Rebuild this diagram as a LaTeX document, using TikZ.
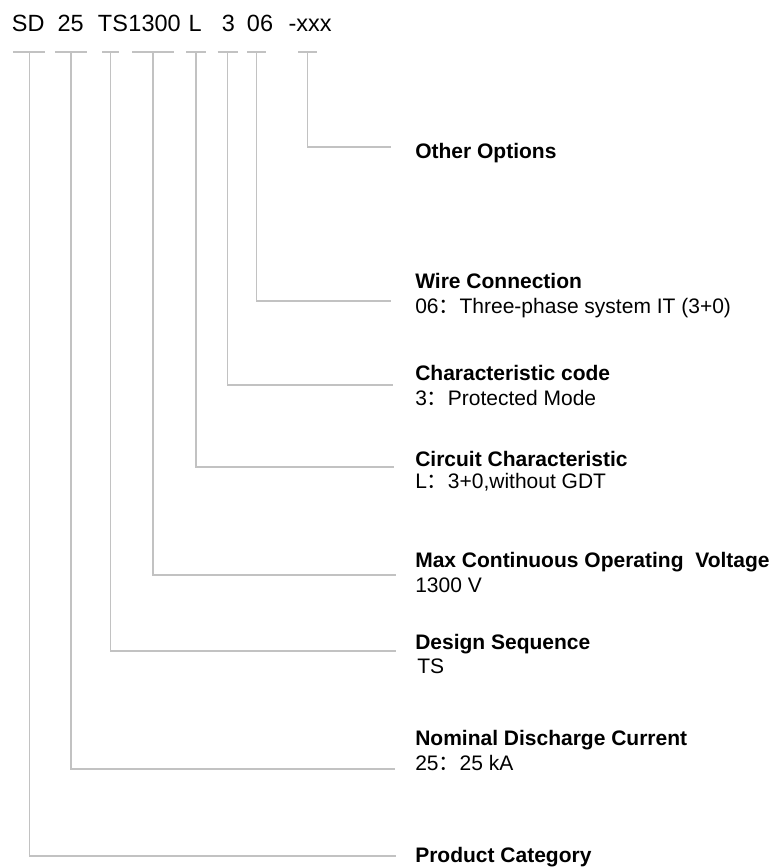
\documentclass[tikz,border=0pt]{standalone}
\usepackage{fontspec}
\setmainfont{Liberation Sans}
\newfontfamily\cjk{Noto Sans CJK SC}
\usetikzlibrary{positioning}

\tikzset{
  code/.style={anchor=base west,inner sep=0pt,font=\fontsize{17.6pt}{20pt}\selectfont},
  title/.style={anchor=base west,inner sep=0pt,font=\fontsize{15.75pt}{19pt}\selectfont\bfseries},
  detail/.style={anchor=base west,inner sep=0pt,font=\fontsize{15.75pt}{19pt}\selectfont},
  bar/.style={draw=black!24,line width=1.1pt},
  lead/.style={draw=black!24,line width=1.1pt},
}
\newcommand{\fc}{{\cjk ：}}

\begin{document}
\begin{tikzpicture}[x=0.75pt,y=-0.75pt]
        \useasboundingbox (0,0) rectangle (776,868);
        \begin{scope}
          % the code itself
          \node[code] (c1) at (11.7,31.6) {SD};
          \node[code] (c2) at (57.3,31.6) {25};
          \node[code] (c3) at (97.7,31.6) {TS};
          \node[code,right=0pt of c3.base east,anchor=base west] (c4) {1300};
          \node[code] (c5) at (188.3,31.6) {L};
          \node[code] (c6) at (221.7,31.6) {3};
          \node[code] (c7) at (246.7,31.6) {06};
          \node[code] (c8) at (288.3,31.6) {-xxx};

          % short bars under each part
          \foreach \x/\w [count=\i] in {29.3/16,71/16,110.7/8.5,153/21,196/10,227.5/10,256.5/9.5,307.5/9.5} {
            \coordinate (t\i) at (\x,52);
            \draw[bar] (\x-\w,52) -- (\x+\w,52);
          }

          % leads out to the right
          \foreach \i/\y/\e in {1/856/396,2/769/395,3/651/396,4/575/396,5/467/394,6/385/393,7/301/391,8/147/391} {
            \coordinate (e\i) at (\e,\y);
            \draw[lead] (t\i) |- (e\i);
          }

          % meanings
          \node[title] (l8) at (415,158) {Other Options};
          \node[title] (l7) at (415,288) {Wire Connection};
          \node[detail] (d7) at (415,313) {06\fc Three-phase system IT (3+0)};
          \node[title] (l6) at (415,380) {Characteristic code};
          \node[detail] (d6) at (415,405) {3\fc Protected Mode};
          \node[title] (l5) at (415,466) {Circuit Characteristic};
          \node[detail] (d5) at (415,488) {L\fc 3+0,without GDT};
          \node[title] (l4) at (415,567) {Max Continuous Operating\ \ Voltage};
          \node[detail] (d4) at (415,592) {1300 V};
          \node[title] (l3) at (415,649) {Design Sequence};
          \node[detail] (d3) at (417,673) {TS};
          \node[title] (l2) at (415,745) {Nominal Discharge Current};
          \node[detail] (d2) at (415,770) {25\fc 25 kA};
          \node[title] (l1) at (415,862) {Product Category};
        \end{scope}
      \end{tikzpicture}
\end{document}
